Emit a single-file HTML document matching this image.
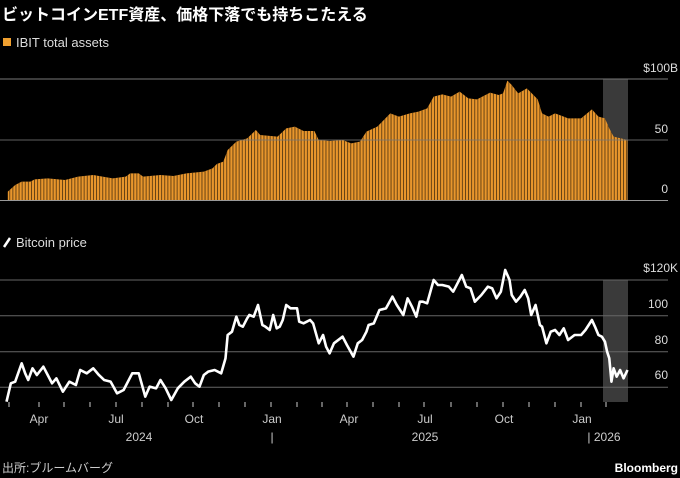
<!DOCTYPE html>
<html><head><meta charset="utf-8"><style>
html,body{margin:0;padding:0;background:#000;}
body{width:680px;height:478px;overflow:hidden;position:relative;font-family:"Liberation Sans","Noto Sans CJK JP",sans-serif;color:#fff;}
</style></head><body>
<svg width="680" height="478" viewBox="0 0 680 478" xmlns="http://www.w3.org/2000/svg" style="position:absolute;left:0;top:0">
<defs>
<pattern id="st" width="3.1" height="10" patternUnits="userSpaceOnUse"><rect x="0" y="0" width="0.9" height="10" fill="#000" opacity="0.6"/></pattern>
<clipPath id="cp"><path transform="scale(0.43365,1) translate(0,60) scale(1,0.33333)" d="M18,422 L18,395 35,375 50,365 70,365 80,358 110,355 150,360 180,350 215,345 260,355 290,350 300,340 320,340 330,350 370,345 400,348 430,340 470,335 490,325 500,312 515,305 525,270 545,245 570,235 590,210 600,225 640,230 660,205 680,200 700,213 725,213 735,240 760,243 790,240 810,250 830,245 845,215 870,200 900,160 920,170 945,160 965,155 985,145 1000,110 1020,103 1040,110 1060,95 1080,115 1100,118 1130,98 1150,105 1160,100 1170,62 1180,75 1195,100 1215,85 1240,118 1250,160 1265,170 1280,160 1300,170 1310,175 1340,175 1365,148 1380,170 1395,175 1405,205 1415,230 1447,240 L1447,422 Z"/></clipPath>
</defs>
<text x="2" y="20" font-size="16" font-weight="bold" fill="#fff" font-family="Liberation Sans, Noto Sans CJK JP, sans-serif">ビットコインETF資産、価格下落でも持ちこたえる</text>
<rect x="3" y="38" width="8" height="8" fill="#f0a030"/>
<text x="16" y="47" font-size="13" fill="#ddd">IBIT total assets</text>
<text x="678" y="72" font-size="12" fill="#ddd" text-anchor="end">$100B</text>
<text x="668" y="133" font-size="12" fill="#ddd" text-anchor="end">50</text>
<text x="668" y="193" font-size="12" fill="#ddd" text-anchor="end">0</text>
<rect x="603" y="79" width="25" height="121" fill="#3a3a3a"/>
<g clip-path="url(#cp)">
<rect x="0" y="60" width="680" height="150" fill="#e8962c"/>
<rect x="0" y="60" width="680" height="150" fill="url(#st)"/>
</g>
<line x1="0" y1="79" x2="668" y2="79" stroke="#777" stroke-width="1"/>
<line x1="0" y1="140" x2="668" y2="140" stroke="#777" stroke-width="1" opacity="0.8"/>
<line x1="0" y1="200.5" x2="668" y2="200.5" stroke="#999" stroke-width="1"/>

<line x1="4" y1="247" x2="10" y2="238" stroke="#fff" stroke-width="2.5"/>
<text x="16" y="247" font-size="13" fill="#ddd">Bitcoin price</text>
<text x="678" y="272" font-size="12" fill="#ddd" text-anchor="end">$120K</text>
<text x="668" y="308" font-size="12" fill="#ddd" text-anchor="end">100</text>
<text x="668" y="344" font-size="12" fill="#ddd" text-anchor="end">80</text>
<text x="668" y="379" font-size="12" fill="#ddd" text-anchor="end">60</text>
<rect x="603" y="280" width="25" height="122" fill="#3a3a3a"/>
<g stroke="#666" stroke-width="1">
<line x1="0" y1="280" x2="668" y2="280"/><line x1="0" y1="315.7" x2="668" y2="315.7"/><line x1="0" y1="351.7" x2="668" y2="351.7"/><line x1="0" y1="387.3" x2="668" y2="387.3"/>
</g>
<g transform="scale(0.43365,1) translate(0,255) scale(1,0.33333)">
<polyline fill="none" stroke="#fff" stroke-width="2.6" vector-effect="non-scaling-stroke" stroke-linejoin="round" points="15,440 25,385 35,380 50,325 58,355 65,375 75,340 85,360 100,335 110,360 120,385 130,370 145,410 160,380 175,390 185,345 200,355 215,340 228,360 240,375 255,380 270,415 285,405 305,355 320,355 335,425 345,395 360,400 370,375 382,400 395,435 410,400 425,380 440,365 450,385 460,395 470,360 480,350 495,345 510,355 520,310 525,240 535,230 545,185 552,210 560,215 570,190 575,180 585,185 595,150 605,210 612,215 622,225 630,180 638,220 645,215 652,195 660,150 670,160 685,160 690,200 700,205 715,195 722,205 735,265 745,240 752,275 760,295 770,265 790,245 800,270 815,305 825,265 835,255 845,230 850,210 862,205 875,165 890,160 905,125 915,150 930,180 940,130 950,155 960,185 968,140 975,140 985,145 1000,75 1010,90 1020,90 1035,95 1045,110 1055,85 1065,60 1075,95 1085,100 1095,140 1110,120 1125,95 1135,100 1145,130 1155,110 1165,45 1175,75 1180,120 1190,140 1200,125 1210,105 1218,130 1225,180 1235,150 1245,210 1250,215 1260,265 1270,230 1280,225 1290,240 1300,220 1310,255 1325,240 1340,240 1350,225 1365,195 1372,215 1380,240 1388,245 1395,260 1400,290 1405,310 1410,380 1415,340 1422,365 1430,345 1438,370 1447,345"/>
</g>
<g stroke="#ccc" stroke-width="1">
<line x1="9" y1="402" x2="9" y2="407"/><line x1="39" y1="402" x2="39" y2="407"/><line x1="64" y1="402" x2="64" y2="407"/><line x1="90" y1="402" x2="90" y2="407"/><line x1="116" y1="402" x2="116" y2="407"/><line x1="142" y1="402" x2="142" y2="407"/><line x1="168" y1="402" x2="168" y2="407"/><line x1="193" y1="402" x2="193" y2="407"/><line x1="219" y1="402" x2="219" y2="407"/><line x1="245" y1="402" x2="245" y2="407"/><line x1="271" y1="402" x2="271" y2="407"/><line x1="297" y1="402" x2="297" y2="407"/><line x1="322" y1="402" x2="322" y2="407"/><line x1="347" y1="402" x2="347" y2="407"/><line x1="373" y1="402" x2="373" y2="407"/><line x1="399" y1="402" x2="399" y2="407"/><line x1="424" y1="402" x2="424" y2="407"/><line x1="451" y1="402" x2="451" y2="407"/><line x1="477" y1="402" x2="477" y2="407"/><line x1="503" y1="402" x2="503" y2="407"/><line x1="529" y1="402" x2="529" y2="407"/><line x1="555" y1="402" x2="555" y2="407"/><line x1="581" y1="402" x2="581" y2="407"/><line x1="606" y1="402" x2="606" y2="407"/>
</g>
<g font-size="12" fill="#ccc" text-anchor="middle">
<text x="39" y="423">Apr</text><text x="116" y="423">Jul</text><text x="194" y="423">Oct</text><text x="272" y="423">Jan</text><text x="349" y="423">Apr</text><text x="425" y="423">Jul</text><text x="504" y="423">Oct</text><text x="582" y="423">Jan</text>
<text x="139" y="441">2024</text><text x="425" y="441">2025</text><text x="604" y="441">| 2026</text>
<text x="272" y="441">|</text>
</g>
<text x="2" y="472" font-size="12" fill="#ccc" font-family="Liberation Sans, Noto Sans CJK JP, sans-serif">出所:ブルームバーグ</text>
<text x="678" y="472" font-size="12" font-weight="bold" fill="#fff" text-anchor="end">Bloomberg</text>
</svg>
</body></html>
